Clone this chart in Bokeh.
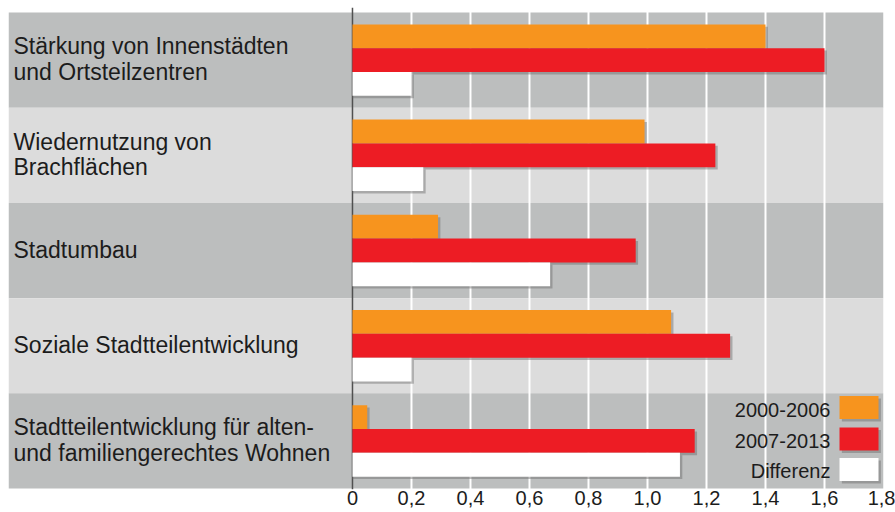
from bokeh.plotting import figure
from bokeh.models import FixedTicker, Range1d
from bokeh.core.properties import value
from bokeh.embed import file_html
from bokeh.resources import INLINE

# ---- data ----
categories = [
    "Stärkung von Innenstädten\nund Ortsteilzentren",
    "Wiedernutzung von\nBrachflächen",
    "Stadtumbau",
    "Soziale Stadtteilentwicklung",
    "Stadtteilentwicklung für alten-\nund familiengerechtes Wohnen",
]
series_names = ["2000-2006", "2007-2013", "Differenz"]
values_2000_2006 = [1.40, 0.99, 0.29, 1.08, 0.05]
values_2007_2013 = [1.60, 1.23, 0.96, 1.28, 1.16]
values_differenz = [0.20, 0.24, 0.67, 0.20, 1.11]
tick_values = [0, 0.2, 0.4, 0.6, 0.8, 1.0, 1.2, 1.4, 1.6, 1.8]
tick_labels = ["0", "0,2", "0,4", "0,6", "0,8", "1,0", "1,2", "1,4", "1,6", "1,8"]

# ---- styling ----
ORANGE = "#f7941e"
RED = "#ed1c24"
WHITE = "#ffffff"
DARK_BAND = "#bcbebe"
LIGHT_BAND = "#dcdcdc"
TEXT = "#1c1c1c"
FONT = value("Liberation Sans")

X_START, X_END = -1.166, 1.8
Y_TOP, Y_BOTTOM = -0.5525, 4.51

rows = list(range(len(categories)))
band_colors = [DARK_BAND if i % 2 == 0 else LIGHT_BAND for i in rows]

p = figure(width=895, height=512, output_backend="svg", toolbar_location=None,
           x_range=Range1d(X_START, X_END), y_range=Range1d(Y_BOTTOM, Y_TOP),
           min_border_left=8, min_border_right=12, min_border_top=7, min_border_bottom=23)
p.outline_line_color = None
p.background_fill_color = "white"
p.border_fill_color = "white"
p.xgrid.visible = False
p.ygrid.visible = False
p.yaxis.visible = False

ax = p.xaxis[0]
ax.ticker = FixedTicker(ticks=tick_values)
ax.major_label_overrides = {v: l for v, l in zip(tick_values, tick_labels)}
ax.axis_line_color = None
ax.major_tick_line_color = None
ax.minor_tick_line_color = None
ax.major_tick_out = 0
ax.major_tick_in = 0
ax.major_label_standoff = 1
ax.major_label_text_font = "Liberation Sans"
ax.major_label_text_font_size = "20px"
ax.major_label_text_color = TEXT

# bands
p.hbar(y=rows, height=1.0, left=X_START, right=X_END, color=band_colors, line_color=None)

# grid lines
grid_ticks = [t for t in tick_values if 0 < t < X_END]
p.segment(x0=grid_ticks, x1=grid_ticks, y0=Y_TOP, y1=Y_BOTTOM, line_color="white", line_width=2)
# zero line
p.segment(x0=[0], x1=[0], y0=[Y_TOP], y1=[Y_BOTTOM], line_color="#505050", line_width=1.5)

# bars with soft shadows
series = [(values_2000_2006, ORANGE, -0.25), (values_2007_2013, RED, 0.0), (values_differenz, WHITE, 0.25)]
for vals, col, off in series:
    ys = [r + off for r in rows]
    p.hbar(y=[y + 0.025 for y in ys], height=0.25, left=0, right=[v + 0.008 for v in vals],
           color="#6a6a6a", alpha=0.45, line_color=None)
for vals, col, off in series:
    ys = [r + off for r in rows]
    p.hbar(y=ys, height=0.25, left=0, right=vals, color=col, line_color=None)

# category labels
p.text(x=[X_START + 0.017] * len(rows), y=[r - 0.01 for r in rows], text=categories,
       text_font=FONT, text_font_size="23px", text_color=TEXT,
       text_align="left", text_baseline="middle", text_line_height=0.98)

# legend (custom, label left of swatch)
leg_colors = [ORANGE, RED, WHITE]
last = rows[-1]
leg_y = [last - 0.35, last - 0.02, last + 0.30]
p.rect(x=[1.717 + 0.008] * 3, y=[y + 0.025 for y in leg_y], width=39, height=23,
       width_units="screen", height_units="screen", color="#6a6a6a", alpha=0.45, line_color=None)
p.rect(x=[1.717] * 3, y=leg_y, width=39, height=23,
       width_units="screen", height_units="screen", color=leg_colors, line_color=None)
p.text(x=[1.62] * 3, y=[y + 0.02 for y in leg_y], text=series_names,
       text_font=FONT, text_font_size="20px", text_color=TEXT,
       text_align="right", text_baseline="middle")

open("out.html", "w").write(file_html(p, INLINE))
